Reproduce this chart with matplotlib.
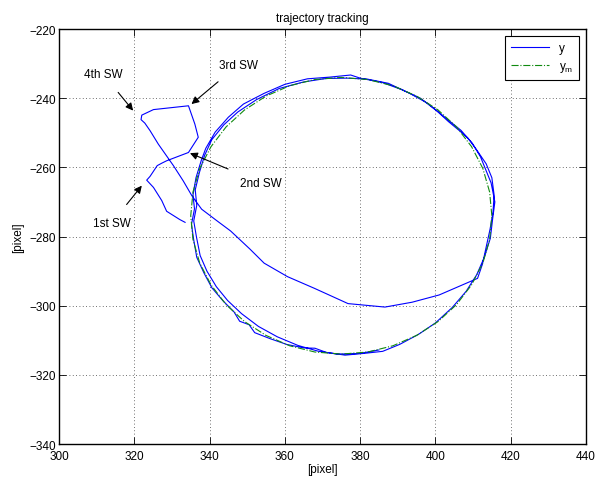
import matplotlib
matplotlib.use("Agg")
import matplotlib.pyplot as plt

plt.rcParams['font.family'] = ['Liberation Sans', 'DejaVu Sans']
plt.rcParams['font.size'] = 8.5

# measured path: start + switching manoeuvres, then the approach to the circle
approach_x = [333.5, 332.1, 328.6, 327.3, 325.1, 323.3, 324.2, 326.1, 327.3, 328.6,
              334.4, 337.0, 336.1, 334.4, 325.1, 322.0, 321.8, 322.8, 324.2, 326.4,
              328.2, 330.4, 333.0, 335.3, 337.9, 341.9, 345.6, 350.7, 354.5, 360.7,
              367.9, 376.8, 386.6, 393.8, 401.0, 411.2]
approach_y = [-275.9, -275.1, -272.7, -269.6, -265.8, -263.7, -262.6, -259.5, -258.8, -258.1,
              -255.7, -251.3, -247.5, -242.2, -243.3, -244.9, -246.2, -247.2, -249.4, -253.3,
              -256.1, -259.5, -263.9, -268.2, -272.1, -275.4, -278.4, -283.6, -287.7, -291.6,
              -295.0, -299.4, -300.4, -299.0, -296.9, -292.1]

# measured path while tracking the circle (two laps)
loop_x = [412.5, 413.5, 414.5, 415.3, 415.6, 415.0, 413.5, 411.0, 408.6, 406.5,
          403.5, 400.5, 396.0, 391.0, 386.0, 380.0, 377.5, 372.0, 366.0, 360.0,
          354.5, 349.0, 345.0, 341.5, 339.0, 337.8, 336.4, 335.6, 336.0, 335.2,
          335.8, 336.6, 338.5, 340.6, 343.5, 346.5, 348.0, 350.5, 352.0, 356.0,
          360.5, 365.0, 368.0, 371.0, 376.0, 381.0, 386.0, 390.5, 395.5, 400.0,
          404.5, 408.2, 411.0, 413.0, 414.6, 415.2, 415.8, 414.8, 413.5, 412.0,
          409.8, 406.8, 402.5, 398.0, 393.0, 387.5, 382.0, 376.5, 371.0, 365.0,
          358.5, 352.5, 347.5, 343.8, 340.6, 338.7, 337.3, 336.2, 336.6, 335.8,
          336.5, 337.5, 339.3, 341.8, 344.8, 348.5, 353.0, 358.0, 363.5, 369.0,
          374.0, 380.0, 385.0]
loop_y = [-288.0, -283.0, -278.0, -273.0, -268.0, -263.0, -259.0, -255.0, -251.5, -249.5,
          -246.8, -243.8, -240.0, -237.5, -235.5, -234.2, -233.3, -233.9, -234.4, -236.0,
          -238.6, -241.7, -245.5, -249.8, -254.5, -258.0, -263.0, -268.0, -272.0, -276.5,
          -281.0, -286.0, -290.5, -294.8, -298.5, -301.8, -304.5, -305.5, -307.8, -309.5,
          -311.2, -312.2, -312.3, -313.5, -314.3, -313.8, -313.2, -311.2, -308.3, -305.0,
          -300.5, -295.8, -291.0, -286.0, -280.5, -275.0, -270.0, -264.5, -261.0, -257.0,
          -253.0, -249.3, -245.5, -241.5, -238.5, -235.7, -234.5, -234.2, -234.3, -235.3,
          -237.2, -240.4, -244.0, -247.7, -252.0, -256.5, -261.5, -266.5, -271.0, -275.5,
          -280.0, -285.5, -290.0, -294.5, -298.5, -302.3, -306.0, -309.0, -311.5, -313.2,
          -314.0, -313.8, -312.8]

# reference trajectory y_m
ref_x = [415.0, 414.4, 412.6, 409.6, 405.6, 400.7, 395.0, 388.7, 382.0, 375.0,
         368.0, 361.3, 355.0, 349.3, 344.4, 340.4, 337.4, 335.6, 335.0, 335.6,
         337.4, 340.4, 344.4, 349.3, 355.0, 361.3, 368.0, 375.0, 382.0, 388.7,
         395.0, 400.7, 405.6, 409.6, 412.6, 414.4, 415.0]
ref_y = [-274.0, -267.1, -260.3, -254.0, -248.3, -243.4, -239.4, -236.4, -234.6, -234.0,
         -234.6, -236.4, -239.4, -243.4, -248.3, -254.0, -260.3, -267.1, -274.0, -280.9,
         -287.7, -294.0, -299.7, -304.6, -308.6, -311.6, -313.4, -314.0, -313.4, -311.6,
         -308.6, -304.6, -299.7, -294.0, -287.7, -280.9, -274.0]

# annotation labels: text, arrow tip, text position
notes = [
    ("4th SW", (319.7, -243.6), (311.7, -233.0)),
    ("3rd SW", (335.2, -241.7), (347.6, -230.4)),
    ("2nd SW", (334.8, -255.9), (353.6, -264.4)),
    ("1st SW", (322.0, -265.3), (314.0, -276.1)),
]

fig = plt.figure(figsize=(5.97, 4.81), dpi=100)
ax = fig.add_axes([0.0988, 0.0748, 0.8827, 0.8628])

ax.plot(approach_x + loop_x, approach_y + loop_y, color='#0000ff', lw=0.8, label='y')
ax.plot(ref_x, ref_y, color='#108a10', lw=0.8, linestyle='-.', label=r'y$_\mathregular{m}$')

for txt, tip, pos in notes:
    ax.annotate(txt, xy=tip, xytext=pos, ha='center', va='center',
                arrowprops=dict(arrowstyle='-|>', color='k', lw=0.8,
                                mutation_scale=11, shrinkA=9, shrinkB=0))

ax.set_xlim(300, 440)
ax.set_ylim(-340, -220)
ax.set_xticks(range(300, 441, 20))
ax.set_yticks(range(-340, -219, 20))
ax.tick_params(direction='in', top=True, right=True, length=5, width=0.6)
ax.tick_params(axis='x', pad=4)
ax.tick_params(axis='y', pad=2)
ax.grid(True, color='0.25', linestyle=(0, (1, 3)), linewidth=0.6)
for s in ax.spines.values():
    s.set_linewidth(1.0)

ax.set_title('trajectory tracking', fontsize=8.5, pad=6)
ax.set_xlabel('[pixel]', labelpad=1)
ax.set_ylabel('[pixel]', labelpad=4)

leg = ax.legend(loc='upper right', fancybox=False, framealpha=1, edgecolor='k',
                handlelength=3.2, borderaxespad=0.6, labelspacing=0.5, borderpad=0.5)
leg.get_frame().set_linewidth(0.8)

fig.savefig('out.png', dpi=100)
